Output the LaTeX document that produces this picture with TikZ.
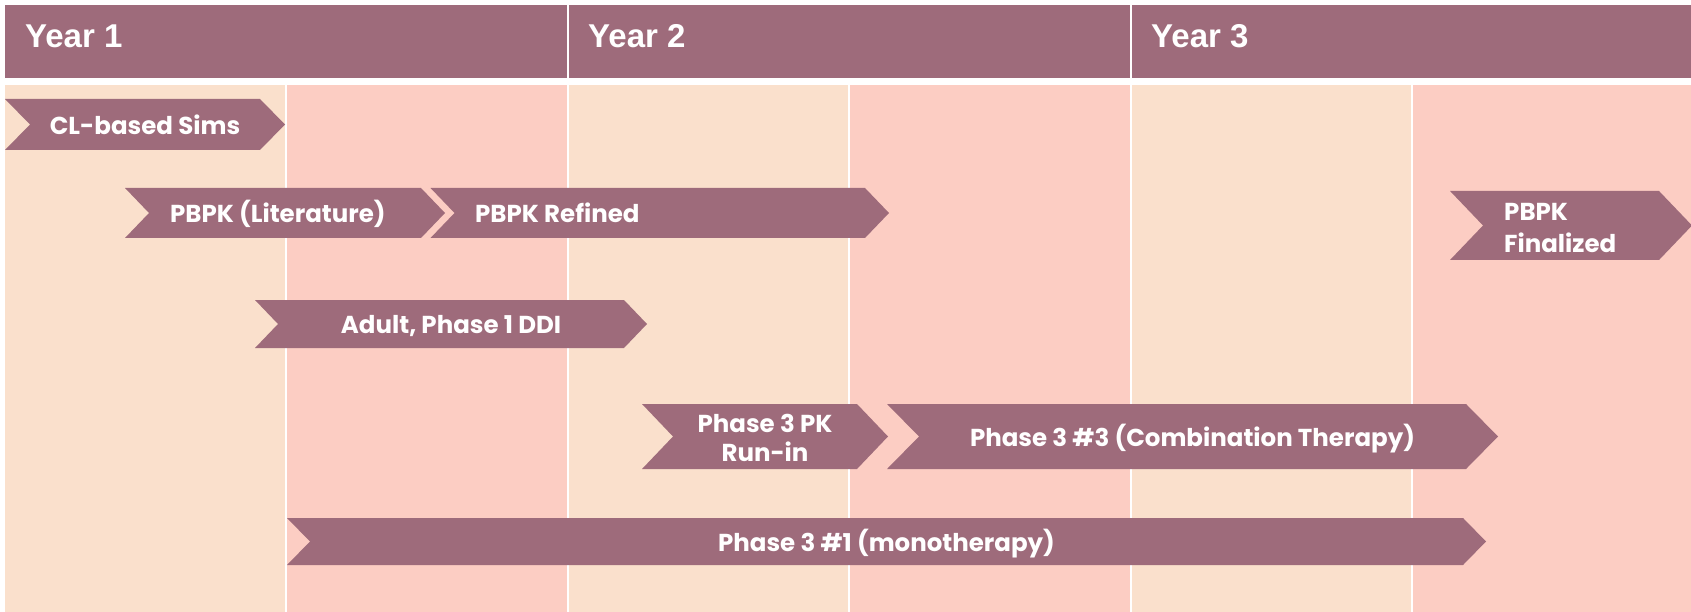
\documentclass[tikz,border=0pt]{standalone}
\usepackage{fontspec}
\setmainfont{Poppins}
\newfontfamily\yearfont{Liberation Sans}
\definecolor{mauve}{RGB}{158,107,123}
\definecolor{peach}{RGB}{250,224,204}
\definecolor{rose}{RGB}{252,205,195}

% chevron: name, left x, tip x, top y, bottom y, notch depth
\newcommand\chevshape[6]{%
  \fill[mauve] (#2,#4) -- ({#3-#6},#4) -- (#3,{(#4+#5)/2}) -- ({#3-#6},#5)
    -- (#2,#5) -- ({#2+#6},{(#4+#5)/2}) -- cycle;
  \coordinate (#1) at ({(#2+#3)/2},{(#4+#5)/2});
}

\begin{document}
\begin{tikzpicture}[x=1pt,y=-1pt,
  yearlabel/.style={anchor=base west,inner sep=0pt,text=white,
    font=\yearfont\bfseries\fontsize{33}{38}\selectfont},
  tasklabel/.style={inner sep=0pt,text=white,
    font=\bfseries\fontsize{24.5}{29}\selectfont}]
\useasboundingbox (0,0) rectangle (1691,612);
\fill[white] (0,0) rectangle (1691,612);

% half-year columns
\foreach \a/\b/\c in {5/285/peach,287/567/rose,569/848/peach,850/1130/rose,1132/1411/peach,1413/1691/rose}
  \fill[\c] (\a,85) rectangle (\b,612);

% year header bars
\foreach \a/\b in {5/567,569/1130,1132/1691}
  \fill[mauve] (\a,5) rectangle (\b,78);
\node[yearlabel] (y1) at (25,48) {Year 1};
\node[yearlabel] (y2) at (588,48) {Year 2};
\node[yearlabel] (y3) at (1151,48) {Year 3};

% task chevrons
\chevshape{cl}{5}{285}{99}{150}{25}
\chevshape{lit}{125}{445}{188}{238}{24}
\chevshape{ref}{430.5}{889}{188}{238}{24}
\chevshape{adult}{255}{647}{300}{348}{23}
\chevshape{pk}{642}{888}{404}{469}{31}
\chevshape{combo}{887}{1498}{404}{469}{32}
\chevshape{mono}{287}{1486}{518}{565}{23}
\chevshape{final}{1450}{1692}{191}{260}{33}

\node[tasklabel,anchor=base] (tcl) at (145,134.5) {CL-based Sims};
\node[tasklabel,anchor=base west] (tlit) at (170,223) {PBPK (Literature)};
\node[tasklabel,anchor=base west] (tref) at (475,223) {PBPK Refined};
\node[tasklabel,anchor=base] (tadult) at (451,333) {Adult, Phase 1 DDI};
\node[tasklabel,align=center] (tpk) at (765,437.5) {Phase 3 PK\\Run-in};
\node[tasklabel,anchor=base] (tcombo) at (1192.5,446) {Phase 3 \#3 (Combination Therapy)};
\node[tasklabel,anchor=base] (tmono) at (886.5,551) {Phase 3 \#1 (monotherapy)};
\node[tasklabel,align=left,anchor=west,
  font=\bfseries\fontsize{24.5}{32}\selectfont] (tfinal) at (1504,228) {PBPK\\Finalized};
\end{tikzpicture}
\end{document}
